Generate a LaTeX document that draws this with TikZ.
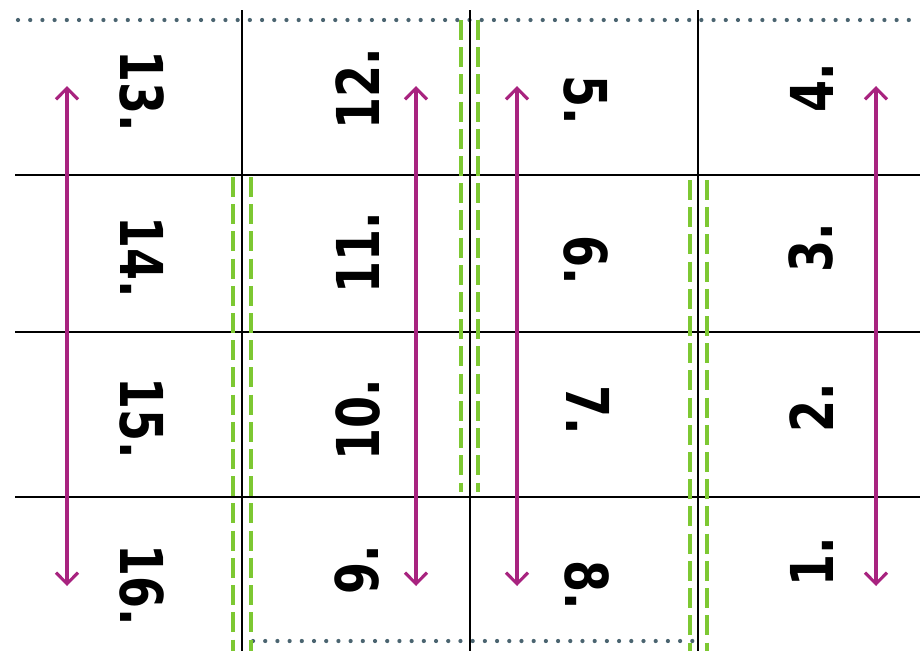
\documentclass[tikz,border=0pt]{standalone}
\usepackage{fontspec}
\newfontfamily\numfont[FakeStretch=0.78]{DejaVu Sans}
\usetikzlibrary{arrows.meta}

\definecolor{foldpink}{HTML}{A8237F}
\definecolor{seamgreen}{HTML}{7DC832}
\definecolor{cutgrey}{HTML}{4A6470}

\begin{document}
\begin{tikzpicture}[
    x=0.025cm, y=-0.025cm,
    gridline/.style={draw=black, line width=1.6pt},
    seamline/.style={draw=seamgreen, line width=2.4pt, dash pattern=on 0.5cm off 0.18cm},
    cutline/.style={draw=cutgrey, line width=3pt, line cap=round, dash pattern=on 0pt off 0.305cm},
    foldarrow/.style={draw=foldpink, line width=2.2pt,
        {Straight Barb[length=2.8mm,width=5.5mm]}-{Straight Barb[length=2.8mm,width=5.5mm]}},
    pagenum/.style={font=\numfont\bfseries\fontsize{42}{42}\selectfont, inner sep=0pt}
]
\useasboundingbox (0,0) rectangle (920,651);

% cut lines
\draw[cutline] (18,20) -- (920,20);
\draw[cutline] (253,641) -- (693,641);

% grid
\foreach \y in {175,332,497}
    \draw[gridline] (15,\y) -- (920,\y);
\foreach \x in {242,470,698}
    \draw[gridline] (\x,10) -- (\x,651);

% seams
\foreach \x in {233,251}
    \draw[seamline] (\x,177) -- (\x,651);
\foreach \x in {461,478}
    \draw[seamline] (\x,20) -- (\x,492);
\foreach \x in {690,707}
    \draw[seamline] (\x,180) -- (\x,651);

% page numbers
\foreach \x/\y/\a/\t/\n in {
    142/91/-90/13./p13, 142/257/-90/14./p14, 142/418/-90/15./p15, 142/585/-90/16./p16,
    358/89/90/12./p12, 358/253/90/11./p11, 358/420/90/10./p10, 357/570/90/9./p9,
    586/100/-90/5./p5, 586/260/-90/6./p6, 588/410/-90/7./p7, 587/585/-90/8./p8,
    812/88/90/4./p4, 811/248/90/3./p3, 812/408/90/2./p2, 812/562/90/1./p1}
    \node[pagenum, rotate=\a] (\n) at (\x,\y) {\t};

% fold arrows
\coordinate (fold1top) at (67,86);
\coordinate (fold1bot) at (67,586);
\coordinate (fold2top) at (416,86);
\coordinate (fold2bot) at (416,586);
\coordinate (fold3top) at (517,86);
\coordinate (fold3bot) at (517,586);
\coordinate (fold4top) at (876,86);
\coordinate (fold4bot) at (876,586);

\draw[foldarrow] (fold1top) -- (fold1bot);
\draw[foldarrow] (fold2top) -- (fold2bot);
\draw[foldarrow] (fold3top) -- (fold3bot);
\draw[foldarrow] (fold4top) -- (fold4bot);

\end{tikzpicture}
\end{document}
